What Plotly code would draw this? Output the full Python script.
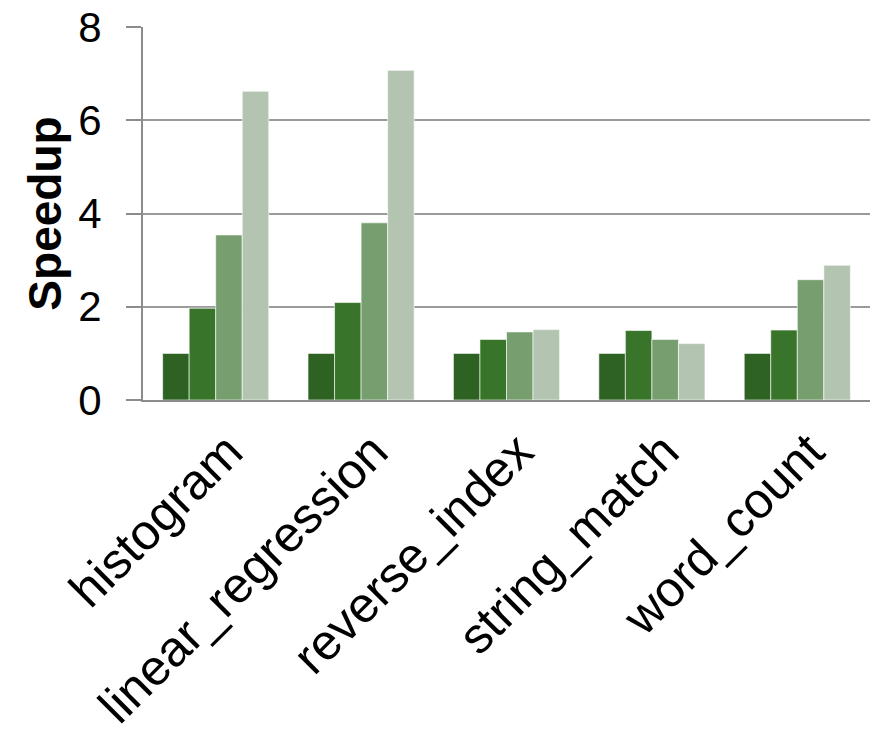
import plotly.graph_objects as go

categories = ["histogram", "linear_regression", "reverse_index", "string_match", "word_count"]
series_names = ["Config 1", "Config 2", "Config 3", "Config 4"]
s1 = [1.0, 1.0, 1.0, 1.0, 1.0]
s2 = [1.97, 2.09, 1.30, 1.49, 1.50]
s3 = [3.54, 3.80, 1.46, 1.30, 2.58]
s4 = [6.62, 7.07, 1.51, 1.21, 2.89]
colors = ["#2d6223", "#38752a", "#779e6f", "#b3c5b1"]
y_ticks = [0, 2, 4, 6, 8]

fig = go.Figure()
for name, vals, c in zip(series_names, [s1, s2, s3, s4], colors):
    fig.add_trace(go.Bar(x=categories, y=vals, name=name, marker_color=c,
                         marker_line=dict(color="rgba(255,255,255,0.6)", width=1)))

font_family = "Liberation Sans, Arial, sans-serif"
fig.update_layout(
    width=877, height=737,
    margin=dict(l=143, r=7, t=27, b=337),
    paper_bgcolor="white", plot_bgcolor="white",
    barmode="group", bargap=0.27, bargroupgap=0,
    showlegend=False,
    font=dict(family=font_family, color="black"),
)
fig.update_yaxes(
    range=[0, 8], tickvals=y_ticks, ticktext=[str(v) for v in y_ticks],
    showgrid=True, gridcolor="#9a9a9a", gridwidth=2,
    showline=True, linecolor="#8c8c8c", linewidth=2,
    ticks="outside", ticklen=15, tickcolor="#8c8c8c", tickwidth=2,
    tickfont=dict(size=42, family=font_family, color="black"),
    ticklabelstandoff=16, zeroline=False, automargin=False,
)
fig.update_xaxes(
    showline=True, linecolor="#8c8c8c", linewidth=2,
    tickangle=-45, tickfont=dict(size=50, family=font_family, color="black"),
    ticks="", automargin=False, ticklabelshift=12, ticklabelstandoff=0,
)
fig.add_annotation(
    text="<b>Speedup</b>", textangle=-90, xref="paper", yref="paper",
    x=-0.136, y=0.5, xanchor="center", yanchor="middle", showarrow=False,
    font=dict(size=46, family=font_family, color="black"),
)
fig.write_html("out.html", config={"displayModeBar": False},
               post_script="document.body.style.margin='0';document.body.style.overflow='hidden';")
